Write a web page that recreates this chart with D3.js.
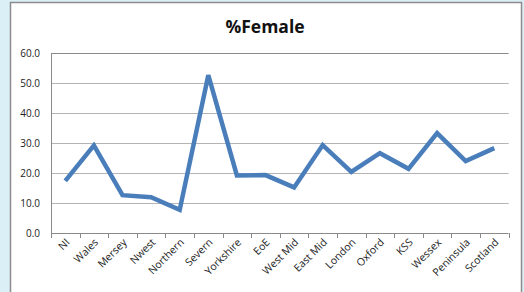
<!DOCTYPE html>
<html lang="en">
<head>
    <meta charset="UTF-8" />
    <title>%Female</title>
    <script src="https://d3js.org/d3.v7.min.js"></script>
    <style>
        body { margin: 0; background: #daeff6; }
        svg { display: block; }
    </style>
</head>
<body>
    <script>
        var regions = ["NI", "Wales", "Mersey", "Nwest", "Northern", "Severn", "Yorkshire", "EoE",
            "West Mid", "East Mid", "London", "Oxford", "KSS", "Wessex", "Peninsula", "Scotland"];
        var pctFemale = [17.4, 29.2, 12.6, 11.9, 7.7, 52.6, 19.2, 19.3,
            15.2, 29.3, 20.4, 26.6, 21.4, 33.3, 24.0, 28.3];
        var yTicks = [0, 10, 20, 30, 40, 50, 60];

        var w = 524;
        var h = 292;
        var plotLeft = 51, plotRight = 508.6, plotTop = 53, plotBottom = 233;

        var svg = d3.select("body")
            .append("svg")
            .attr("width", w)
            .attr("height", h);

        // chart box
        svg.append("rect")
            .attr("x", 10.5)
            .attr("y", 2.5)
            .attr("width", 511)
            .attr("height", 300)
            .attr("fill", "white")
            .attr("stroke", "#8c8c8c")
            .attr("stroke-width", 1.5);

        // Scales
        var xScale = d3.scaleBand()
            .domain(regions)
            .range([plotLeft, plotRight]);

        var yScale = d3.scaleLinear()
            .domain([0, 60])
            .range([plotBottom, plotTop]);

        // gridlines
        svg.selectAll(".grid")
            .data(yTicks)
            .enter()
            .append("line")
            .attr("x1", plotLeft)
            .attr("x2", plotRight)
            .attr("y1", function(d) { return Math.round(yScale(d)) + 0.5; })
            .attr("y2", function(d) { return Math.round(yScale(d)) + 0.5; })
            .attr("stroke", function(d) { return d == 60 || d == 0 ? "#8a8a8a" : "#b4b4b4"; })
            .attr("stroke-width", 1.2);

        // y labels
        svg.selectAll(".ylab")
            .data(yTicks)
            .enter()
            .append("text")
            .attr("x", 40)
            .attr("y", function(d) { return yScale(d) + 3.5; })
            .attr("text-anchor", "end")
            .attr("font-family", "Open Sans, sans-serif")
            .attr("font-size", "10px")
            .attr("fill", "#222")
            .text(function(d) { return d.toFixed(1); });

        // y axis line
        svg.append("line")
            .attr("x1", plotLeft + 0.5).attr("x2", plotLeft + 0.5)
            .attr("y1", plotTop).attr("y2", plotBottom + 4)
            .attr("stroke", "#8a8a8a");

        // x axis ticks
        var tickPos = regions.map(function(d) { return xScale(d); }).concat([plotRight]);
        svg.selectAll(".xtick")
            .data(tickPos)
            .enter()
            .append("line")
            .attr("x1", function(d) { return Math.round(d) + 0.5; })
            .attr("x2", function(d) { return Math.round(d) + 0.5; })
            .attr("y1", plotBottom)
            .attr("y2", plotBottom + 5)
            .attr("stroke", "#8a8a8a");

        // x labels rotated
        svg.selectAll(".xlab")
            .data(regions)
            .enter()
            .append("text")
            .attr("transform", function(d) {
                var x = xScale(d) + xScale.bandwidth() / 2 + 5;
                return "translate(" + x + "," + (plotBottom + 10) + ") rotate(-45)";
            })
            .attr("text-anchor", "end")
            .attr("font-family", "Open Sans, sans-serif")
            .attr("font-size", "10.5px")
            .attr("fill", "#222")
            .text(function(d) { return d; });

        // line
        var line = d3.line()
            .x(function(d, i) { return xScale(regions[i]) + xScale.bandwidth() / 2; })
            .y(function(d) { return yScale(d); });

        svg.append("path")
            .datum(pctFemale)
            .attr("d", line)
            .attr("fill", "none")
            .attr("stroke", "#4a7ebb")
            .attr("stroke-width", 4.5)
            .attr("stroke-linejoin", "miter")
            .attr("stroke-linecap", "butt");

        // title
        svg.append("text")
            .attr("x", 265)
            .attr("y", 33)
            .attr("text-anchor", "middle")
            .attr("font-family", "Open Sans, sans-serif")
            .attr("font-weight", "bold")
            .attr("font-size", "17.5px")
            .attr("fill", "#111")
            .text("%Female");
    </script>
</body>
</html>
